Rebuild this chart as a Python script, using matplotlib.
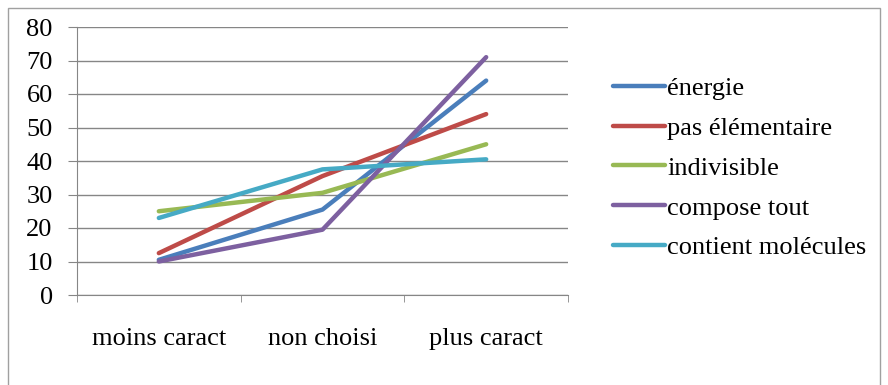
import matplotlib
matplotlib.use('Agg')
import matplotlib.pyplot as plt
from matplotlib.patches import Rectangle

plt.rcParams['font.family'] = 'Liberation Serif'

categories = ['moins caract', 'non choisi', 'plus caract']
energie = [10.5, 25.5, 64]
pas_elementaire = [12.5, 35.5, 54]
indivisible = [25, 30.5, 45]
compose_tout = [10, 19.5, 71]
contient_molecules = [23, 37.5, 40.5]

series = [
    ('énergie', energie, '#4A7EBB'),
    ('pas élémentaire', pas_elementaire, '#BE4B48'),
    ('indivisible', indivisible, '#98B954'),
    ('compose tout', compose_tout, '#7D60A0'),
    ('contient molécules', contient_molecules, '#46AAC5'),
]

fig = plt.figure(figsize=(8.88, 3.85), dpi=100)
fig.patches.append(Rectangle((8 / 888, -0.05), 872 / 888, 1.05 - 8 / 385,
                             transform=fig.transFigure, fill=False,
                             edgecolor='#a0a0a0', linewidth=1))
ax = fig.add_axes([77 / 888, 90 / 385, 491 / 888, 268 / 385])

x = range(len(categories))
for name, vals, col in series:
    ax.plot(x, vals, color=col, linewidth=3.2, label=name, solid_capstyle='round')

ax.set_xlim(-0.5, 2.5)
ax.set_ylim(0, 80)
ax.set_yticks(range(0, 81, 10))
ax.set_xticks(list(x))
ax.set_xticklabels(categories)
ax.set_xticks([-0.5, 0.5, 1.5, 2.5], minor=True)
ax.tick_params(axis='x', which='major', length=0, pad=24, labelsize=19)
ax.tick_params(axis='x', which='minor', length=5, direction='out', color='#868686')
ax.tick_params(axis='y', length=6.5, direction='out', color='#868686', labelsize=19, pad=11)
ax.yaxis.grid(True, color='#868686', linewidth=1)
ax.set_axisbelow(True)
for s in ['top', 'right']:
    ax.spines[s].set_visible(False)
for s in ['left', 'bottom']:
    ax.spines[s].set_color('#868686')

leg = ax.legend(loc='center left', bbox_to_anchor=(1.092, 0.474), frameon=False,
                fontsize=19, handlelength=1.95, handletextpad=0.1, labelspacing=0.62,
                borderaxespad=0, borderpad=0)

fig.savefig('out.png', dpi=100)
